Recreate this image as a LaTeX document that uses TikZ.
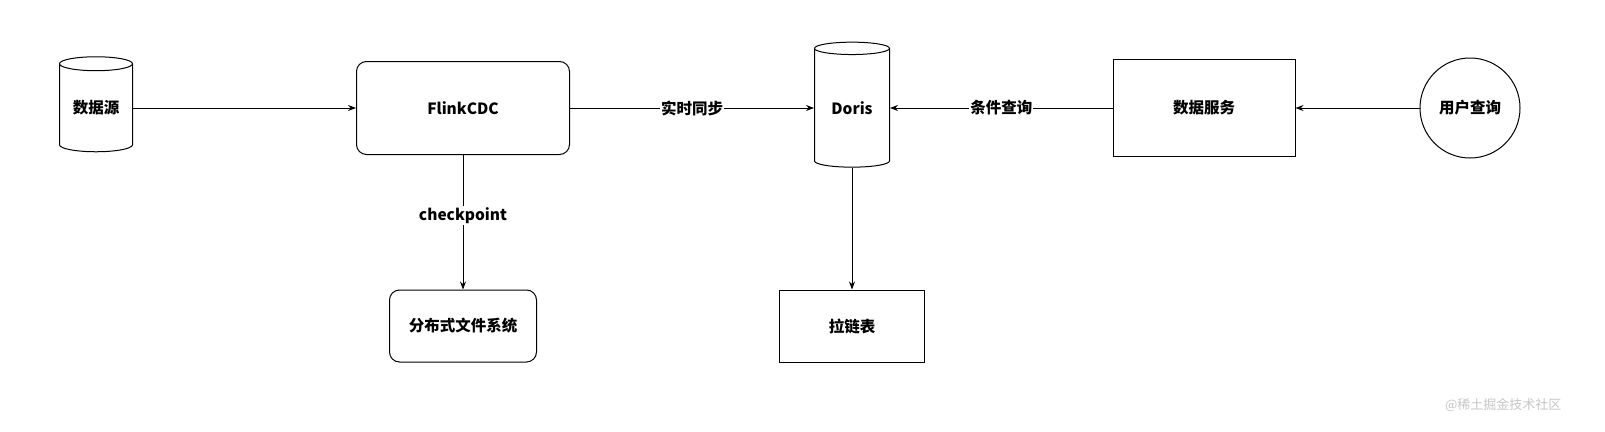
\documentclass[tikz,border=0pt]{standalone}
\usepackage{fontspec}
\setmainfont{Noto Sans CJK SC}
\usetikzlibrary{shapes.geometric,arrows.meta}
\begin{document}
\begin{tikzpicture}[x=1pt,y=-1pt,
  lbl/.style={font=\bfseries\fontsize{15.5}{18}\selectfont},
  cyl/.style={draw,line width=1pt,cylinder,shape border rotate=90,aspect=0.3,lbl,inner sep=0pt},
  boxr/.style={draw,line width=1pt,rounded corners=10pt,lbl},
  boxs/.style={draw,line width=1pt,lbl},
  arr/.style={-{Stealth[length=8pt,width=6pt]},line width=0.8pt},
  el/.style={fill=white,lbl,inner sep=1pt}]
\useasboundingbox (0,0) rectangle (1605,431);
\node[cyl,minimum width=73pt,minimum height=95pt] (src) at (96,108) {数据源};
\node[boxr,minimum width=213pt,minimum height=93pt] (flink) at (463,108) {FlinkCDC};
\node[cyl,minimum width=75pt,minimum height=125pt] (doris) at (852,108) {Doris};
\node[boxs,minimum width=182pt,minimum height=97pt] (svc) at (1204,108) {数据服务};
\node[draw,line width=1pt,circle,minimum size=100pt,lbl] (user) at (1470,108) {用户查询};
\node[boxr,minimum width=147pt,minimum height=72pt] (dfs) at (463,326) {分布式文件系统};
\node[boxs,minimum width=145pt,minimum height=72pt] (zip) at (852,326) {拉链表};
\draw[arr] (src) -- (flink);
\draw[arr] (flink) -- node[el]{实时同步} (doris);
\draw[arr] (svc) -- node[el]{条件查询} (doris);
\draw[arr] (user) -- (svc);
\draw[arr] (flink) -- node[el,pos=0.45]{checkpoint} (dfs);
\draw[arr] (doris) -- (zip);
\node[text=gray!45,font=\fontsize{13}{15}\selectfont,anchor=east] (wm) at (1565,405) {@稀土掘金技术社区};
\end{tikzpicture}
\end{document}
